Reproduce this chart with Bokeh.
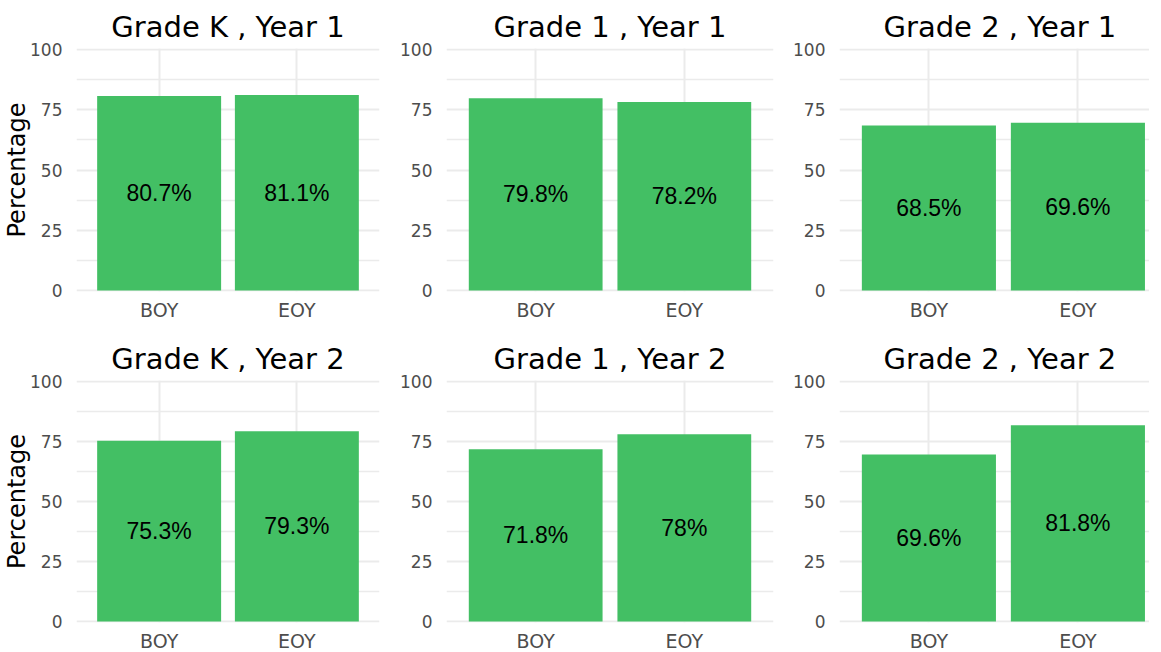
from bokeh.plotting import figure
from bokeh.layouts import gridplot
from bokeh.models import Range1d, FixedTicker, ColumnDataSource
from bokeh.core.properties import value
from bokeh.embed import file_html
from bokeh.resources import INLINE

# ---- data ----
categories = ["BOY", "EOY"]
grades = ["Grade K", "Grade 1", "Grade 2"]
years = ["Year 1", "Year 2"]
pct_k_y1 = [80.7, 81.1]
pct_1_y1 = [79.8, 78.2]
pct_2_y1 = [68.5, 69.6]
pct_k_y2 = [75.3, 79.3]
pct_1_y2 = [71.8, 78.0]
pct_2_y2 = [69.6, 81.8]
y_ticks = [0, 25, 50, 75, 100]
y_minor = [12.5, 37.5, 62.5, 87.5]

values_grid = [[pct_k_y1, pct_1_y1, pct_2_y1],
               [pct_k_y2, pct_1_y2, pct_2_y2]]

BAR = "#43BF64"
GRID = "#EBEBEB"
TICK = "#4D4D4D"
UI_FONT = "DejaVu Sans"
LBL_FONT = "Liberation Sans"

# layout: per column (border_left, frame_width, border_right, x_end, title_align, title_offset)
col_cfg = [(70, 303, 10, 2.6, "center", 0),
           (57, 327, 10, 2.6, "center", 0),
           (56, 310, 0, 2.4805, "left", 44)]
# per row (border_top, frame_height, border_bottom)
row_cfg = [(48, 243, 41), (48, 242, 29)]

rows = []
for r, year in enumerate(years):
    row_figs = []
    for c, grade in enumerate(grades):
        bl, fw, br, xend, talign, toff = col_cfg[c]
        bt, fh, bb = row_cfg[r]
        vals = values_grid[r][c]
        xs = [i + 1 for i in range(len(categories))]
        src = ColumnDataSource(dict(
            x=xs, top=vals, mid=[v / 2 for v in vals],
            lbl=[f"{v:g}%" for v in vals]))
        p = figure(frame_width=fw, frame_height=fh,
                   min_border_left=bl, min_border_right=br,
                   min_border_top=bt, min_border_bottom=bb,
                   x_range=Range1d(0.4, xend), y_range=Range1d(-0.4, 100.4),
                   output_backend="svg", toolbar_location=None,
                   background_fill_color="white", border_fill_color="white")
        p.outline_line_color = None

        p.title.text = f"{grade} , {year}"
        p.title.align = talign
        p.title.offset = toff
        p.title.text_font = UI_FONT
        p.title.text_font_size = "29px"
        p.title.text_font_style = "normal"
        p.title.text_color = "black"
        p.title.standoff = 10

        p.vbar(x="x", top="top", bottom=0, width=0.9, source=src,
               fill_color=BAR, line_color=None)
        p.text(x="x", y="mid", text="lbl", source=src,
               text_align="center", text_baseline="middle",
               text_font=value(LBL_FONT), text_font_size="23px",
               text_color="black")

        # axes
        p.xaxis.ticker = FixedTicker(ticks=xs)
        p.xaxis.major_label_overrides = {x: cat for x, cat in zip(xs, categories)}
        p.yaxis.ticker = FixedTicker(ticks=y_ticks, minor_ticks=y_minor)
        for ax in (p.xaxis[0], p.yaxis[0]):
            ax.axis_line_color = None
            ax.major_tick_line_color = None
            ax.minor_tick_line_color = None
            ax.major_label_text_font = UI_FONT
            ax.major_label_text_color = TICK
        p.xaxis.major_label_text_font_size = "19px"
        p.yaxis.major_label_text_font_size = "17px"
        p.xaxis.major_label_standoff = 1
        p.yaxis.major_label_standoff = 8
        if c == 0:
            p.yaxis.axis_label = "Percentage"
            p.yaxis.axis_label_text_font = UI_FONT
            p.yaxis.axis_label_text_font_size = "24px"
            p.yaxis.axis_label_text_font_style = "normal"
            p.yaxis.axis_label_text_color = "black"
            p.yaxis.axis_label_standoff = -4

        # grids
        p.xgrid.grid_line_color = GRID
        p.xgrid.grid_line_width = 2
        p.ygrid.grid_line_color = GRID
        p.ygrid.grid_line_width = 2
        p.ygrid.minor_grid_line_color = GRID
        p.ygrid.minor_grid_line_width = 1.5
        row_figs.append(p)
    rows.append(row_figs)

layout = gridplot(rows, toolbar_location=None)
open("out.html", "w").write(file_html(layout, INLINE))
